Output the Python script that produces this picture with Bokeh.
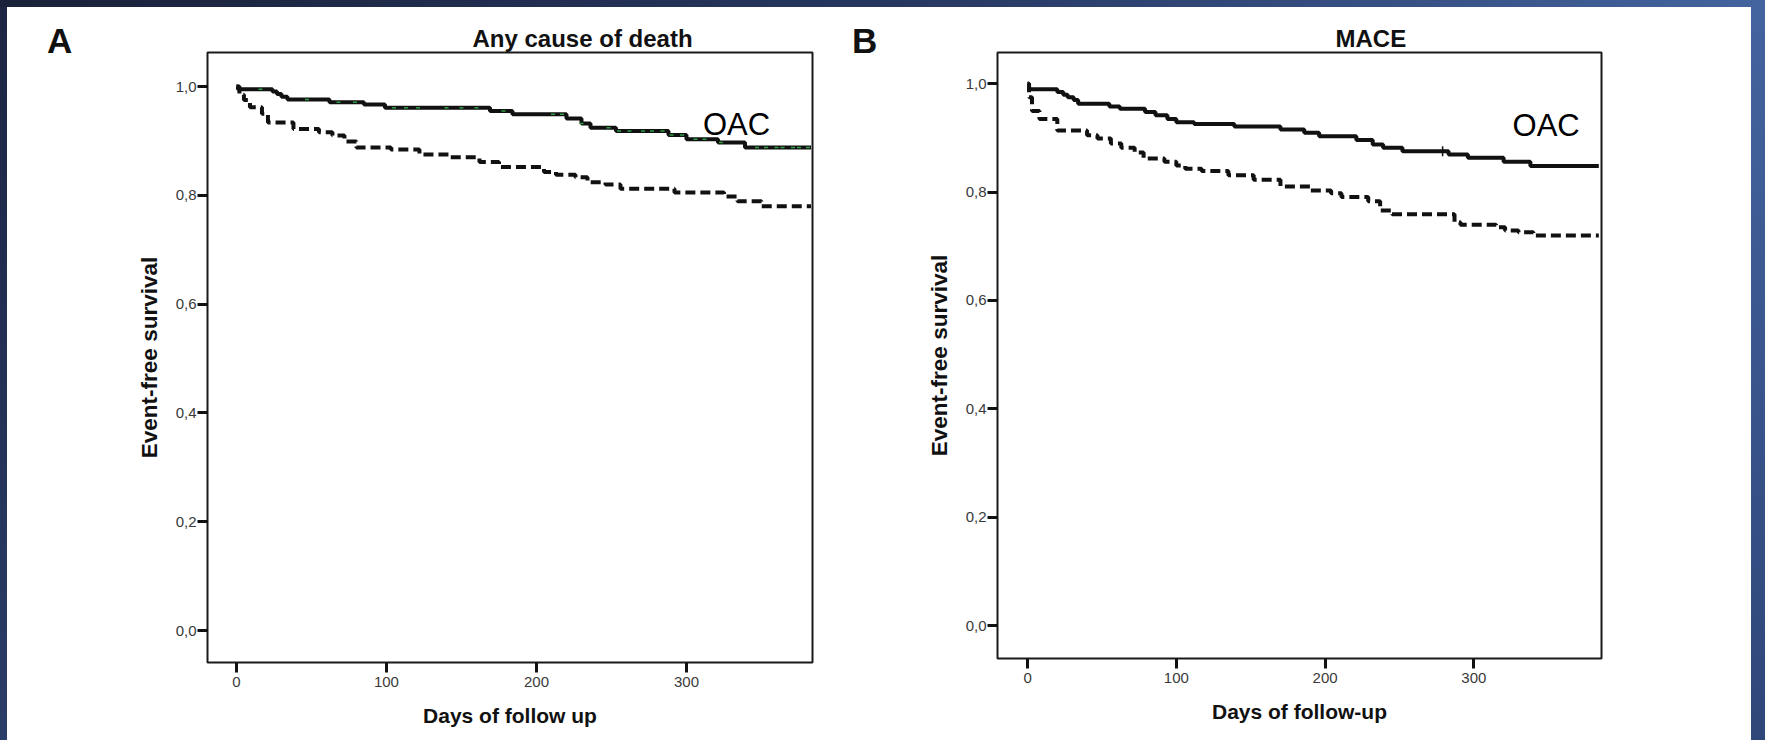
import math

from bokeh.plotting import figure
from bokeh.models import FixedTicker, Label, Title, Div, CustomJSTickFormatter, Range1d
from bokeh.layouts import row, column
from bokeh.embed import file_html
from bokeh.resources import INLINE

# Kaplan-Meier step data (days, event-free survival)
# Panel A: any cause of death
death_oac_days = [0, 1, 24, 27, 30, 34, 62, 85, 99, 169, 184, 220, 230, 236, 253, 288, 300, 321, 339, 383]
death_oac_surv = [1.0, 0.995, 0.991, 0.986, 0.981, 0.976, 0.971, 0.967, 0.961, 0.955, 0.949, 0.941,
                  0.932, 0.924, 0.918, 0.911, 0.903, 0.897, 0.888, 0.888]
death_no_oac_days = [0, 2, 5, 9, 17, 21, 38, 55, 64, 72, 80, 103, 122, 142, 162, 175, 205, 213,
                     226, 234, 246, 256, 292, 325, 334, 350, 383]
death_no_oac_surv = [1.0, 0.985, 0.975, 0.962, 0.950, 0.934, 0.922, 0.916, 0.910, 0.899, 0.888,
                     0.884, 0.875, 0.870, 0.861, 0.852, 0.843, 0.838, 0.833, 0.824, 0.820, 0.812,
                     0.805, 0.798, 0.789, 0.780, 0.780]
# censored observations on the OAC curve
death_oac_censored = [16, 47, 68, 79, 105, 113, 121, 140, 150, 160, 178, 211, 217, 230, 248, 255,
                      262, 271, 277, 284, 290, 297, 306, 312, 323, 347, 353, 360, 364, 371, 375, 381]

# Panel B: MACE
mace_oac_days = [0, 1, 20, 24, 27, 31, 34, 55, 62, 79, 86, 94, 100, 112, 139, 170, 186, 196, 221,
                 232, 239, 252, 283, 296, 320, 338, 384]
mace_oac_surv = [1.0, 0.990, 0.985, 0.980, 0.975, 0.970, 0.963, 0.958, 0.954, 0.948, 0.942, 0.935,
                 0.929, 0.926, 0.921, 0.9155, 0.9095, 0.903, 0.8965, 0.888, 0.882, 0.8755, 0.8695,
                 0.8635, 0.856, 0.8485, 0.8485]
mace_no_oac_days = [0, 1, 3, 8, 20, 40, 47, 56, 63, 72, 78, 92, 100, 106, 117, 135, 152, 170, 190,
                    204, 211, 229, 237, 245, 287, 291, 315, 321, 330, 340, 384]
mace_no_oac_surv = [1.0, 0.975, 0.950, 0.935, 0.914, 0.905, 0.899, 0.890, 0.882, 0.873, 0.862,
                    0.856, 0.849, 0.843, 0.839, 0.831, 0.823, 0.8105, 0.803, 0.798, 0.791, 0.783,
                    0.766, 0.759, 0.7445, 0.740, 0.735, 0.729, 0.726, 0.720, 0.720]
mace_oac_censored = [279]

y_ticks = [0, 0.2, 0.4, 0.6, 0.8, 1.0]
x_ticks = [0, 100, 200, 300]

FONT = "Liberation Sans"
PAGE_H = 733


def step_value(days, surv, t):
    """Survival of a right-continuous step curve at time t."""
    s = surv[0]
    for d, v in zip(days, surv):
        if d <= t:
            s = v
    return s


def letter_strip(letter, width, pad_left, pad_top):
    """White strip holding the bold panel letter."""
    html = (f'<div style="padding:{pad_top}px 0 0 {pad_left}px; font-family:\'{FONT}\'; '
            f'font-weight:bold; font-size:35px; line-height:35px; color:#111111;">{letter}</div>')
    return Div(text=html, width=width, height=PAGE_H, margin=0,
               styles={"background": "white"})


def km_panel(title, title_offset, xlabel, oac_days, oac_surv, no_days, no_surv,
             x_range, y_range, frame_w, frame_h, b_left, b_right, b_top, b_bottom, oac_pos):
    p = figure(frame_width=frame_w, frame_height=frame_h,
               min_border_left=b_left, min_border_right=b_right,
               min_border_top=b_top, min_border_bottom=b_bottom,
               x_range=Range1d(*x_range), y_range=Range1d(*y_range),
               output_backend="svg", toolbar_location=None)
    p.background_fill_color = "white"
    p.border_fill_color = "white"
    p.outline_line_color = "#1a1a1a"
    p.outline_line_width = 2
    p.xgrid.visible = False
    p.ygrid.visible = False

    p.title = Title(text=title, align="left", offset=title_offset, standoff=2,
                    text_font=FONT, text_font_size="24px", text_font_style="bold",
                    text_color="#111111")

    for ax in (p.xaxis[0], p.yaxis[0]):
        ax.axis_line_color = None
        ax.major_tick_in = 0
        ax.major_tick_out = 10
        ax.major_tick_line_width = 3
        ax.major_tick_line_color = "#111111"
        ax.minor_tick_line_color = None
        ax.major_label_text_font = FONT
        ax.major_label_text_font_size = "15px"
        ax.major_label_text_color = "#3a3a3a"
        ax.axis_label_text_font = FONT
        ax.axis_label_text_font_style = "bold"
        ax.axis_label_text_color = "#111111"

    p.xaxis.ticker = FixedTicker(ticks=x_ticks)
    p.xaxis.axis_label = xlabel
    p.xaxis.axis_label_text_font_size = "21px"
    p.xaxis.major_label_standoff = 4
    p.xaxis.axis_label_standoff = 14

    p.yaxis.ticker = FixedTicker(ticks=y_ticks)
    p.yaxis.formatter = CustomJSTickFormatter(code="return tick.toFixed(1).replace('.', ',');")
    p.yaxis.axis_label = "Event-free survival"
    p.yaxis.axis_label_text_font_size = "22.5px"
    p.yaxis.major_label_standoff = 1
    p.yaxis.axis_label_standoff = 11

    p.step(no_days, no_surv, mode="after", line_color="#111111", line_width=4,
           line_dash="10 5")
    p.step(oac_days, oac_surv, mode="after", line_color="#111111", line_width=4)

    p.add_layout(Label(x=oac_pos[0], y=oac_pos[1], text="OAC", text_font=FONT,
                       text_font_size="31px", text_color="#000000",
                       text_baseline="alphabetic"))
    return p


letter_a = letter_strip("A", 120, 40, 16)
pA = km_panel("Any cause of death", 265, "Days of follow up",
              death_oac_days, death_oac_surv, death_no_oac_days, death_no_oac_surv,
              (-19.3, 384.0), (-0.0588, 1.0625), 605, 610, 80, 38, 45, 78,
              (311, 0.930))
pA.scatter(death_oac_censored,
           [step_value(death_oac_days, death_oac_surv, t) for t in death_oac_censored],
           marker="dash", size=4, line_width=1.5, line_color="#2f9e44")

letter_b = letter_strip("B", 60, 2, 16)
pB = km_panel("MACE", 338, "Days of follow-up",
              mace_oac_days, mace_oac_surv, mace_no_oac_days, mace_no_oac_surv,
              (-20.2, 385.8), (-0.0609, 1.0578), 604, 606, 87, 150, 45, 82,
              (326, 0.923))
pB.scatter(mace_oac_censored,
           [step_value(mace_oac_days, mace_oac_surv, t) for t in mace_oac_censored],
           marker="dash", angle=math.pi / 2, size=10, line_width=1.5, line_color="#111111")

top_band = Div(text="", width=1765, height=7, margin=0,
               styles={"background": "linear-gradient(90deg, #1a2239 0%, #26365f 50%, #44649f 100%)"})
left_band = Div(text="", width=7, height=PAGE_H, margin=0,
                styles={"background": "linear-gradient(180deg, #1c2542 0%, #2a3c68 100%)"})
right_band = Div(text="", width=14, height=PAGE_H, margin=0,
                 styles={"background": "linear-gradient(180deg, #44649f 0%, #2f4679 100%)"})

layout = column(top_band,
                row(left_band, letter_a, pA, letter_b, pB, right_band, spacing=0),
                spacing=0)

with open("out.html", "w") as f:
    f.write(file_html(layout, INLINE))
